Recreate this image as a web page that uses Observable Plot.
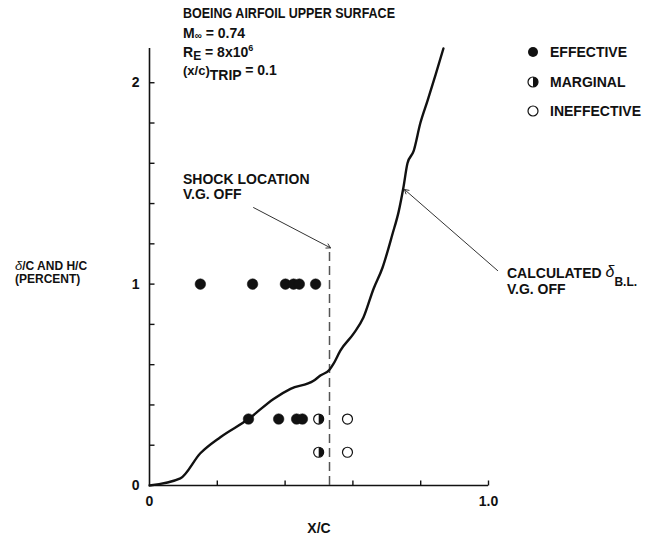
<!DOCTYPE html>
<html><head><meta charset="utf-8">
<script src="https://cdn.jsdelivr.net/npm/d3@7"></script>
<script src="https://cdn.jsdelivr.net/npm/@observablehq/plot@0.6"></script>
<style>
body{margin:0;background:#fff;}
#chart{position:relative;width:658px;height:536px;}
</style></head>
<body><div id="chart"></div>
<script>
// ---- data ----
const curveX = [0, 0.091, 0.15, 0.209, 0.292, 0.366, 0.416, 0.484, 0.504, 0.531, 0.543, 0.563, 0.602, 0.631, 0.661, 0.687, 0.717, 0.735, 0.749, 0.761, 0.779, 0.799, 0.82, 0.844, 0.867];
const curveY = [0, 0.035, 0.16, 0.24, 0.33, 0.43, 0.48, 0.52, 0.546, 0.575, 0.605, 0.67, 0.754, 0.834, 0.977, 1.08, 1.25, 1.36, 1.48, 1.6, 1.66, 1.8, 1.91, 2.04, 2.17];
const effectiveX = [0.15, 0.304, 0.401, 0.425, 0.442, 0.49, 0.292, 0.381, 0.434, 0.451];
const effectiveY = [1, 1, 1, 1, 1, 1, 0.33, 0.33, 0.33, 0.33];
const marginalX = [0.499, 0.499];
const marginalY = [0.33, 0.165];
const ineffectiveX = [0.584, 0.584];
const ineffectiveY = [0.33, 0.165];
const shockX = 0.531;
const shockTop = 1.18;
const yTicks = [0.2, 0.4, 0.6, 0.8, 1.0, 1.2, 1.4, 1.6, 1.8, 2.0];
const xTicks = [0.2, 0.4, 0.6, 0.8, 1.0];
const yTickLabels = [0, 1, 2];
const xTickValues = [0, 1];
const xTickLabels = ["0", "1.0"];
const legendLabels = ["EFFECTIVE", "MARGINAL", "INEFFECTIVE"];

const curve = curveX.map((x, i) => ({x, y: curveY[i]}));
const eff = effectiveX.map((x, i) => ({x, y: effectiveY[i]}));
const marg = marginalX.map((x, i) => ({x, y: marginalY[i]}));
const ineff = ineffectiveX.map((x, i) => ({x, y: ineffectiveY[i]}));

const halfRight = {draw(ctx, size) { const r = Math.sqrt(size / Math.PI); ctx.moveTo(0, -r); ctx.arc(0, 0, r, -Math.PI / 2, Math.PI / 2); ctx.closePath(); }};
const hTick = {draw(ctx) { ctx.moveTo(0, 0); ctx.lineTo(5, 0); }};
const vTick = {draw(ctx) { ctx.moveTo(0, 0); ctx.lineTo(0, -5); }};

const ink = "#111";
const font = "'Liberation Sans', Arial, Helvetica, sans-serif";

const plot = Plot.plot({
  width: 658, height: 536,
  marginTop: 48, marginBottom: 51, marginLeft: 149, marginRight: 170,
  x: {domain: [0, 1], axis: null},
  y: {domain: [0, 2.17], axis: null},
  style: {fontFamily: font, fontWeight: "bold", fontSize: "14px", color: ink, background: "#fff", overflow: "visible"},
  marks: [
    Plot.ruleY([0], {x1: 0, x2: 1, stroke: ink, strokeWidth: 1.6}),
    Plot.ruleX([0], {y1: 0, y2: 2.17, stroke: ink, strokeWidth: 1.6}),
    Plot.dot(yTicks, {x: 0, y: d => d, symbol: hTick, stroke: ink, fill: "none", strokeWidth: 1.4}),
    Plot.dot(xTicks, {x: d => d, y: 0, symbol: vTick, stroke: ink, fill: "none", strokeWidth: 1.4}),
    Plot.text(yTickLabels, {x: 0, y: d => d, text: d => String(d), dx: -10, textAnchor: "end", fill: ink}),
    Plot.text(xTickValues, {x: d => d, y: 0, text: (d, i) => xTickLabels[i], dy: 16, fill: ink}),
    Plot.text(["X/C"], {x: 0.5, y: 0, dy: 43, fill: ink}),
    Plot.ruleX([shockX], {y1: 0, y2: shockTop, stroke: "#555", strokeWidth: 1.5, strokeDasharray: "9,5"}),
    Plot.arrow([{x1: 0.307, y1: 1.38, x2: 0.534, y2: 1.18}], {x1: "x1", y1: "y1", x2: "x2", y2: "y2", stroke: "#333", strokeWidth: 1, headLength: 7}),
    Plot.arrow([{x1: 1.027, y1: 1.067, x2: 0.752, y2: 1.47}], {x1: "x1", y1: "y1", x2: "x2", y2: "y2", stroke: "#333", strokeWidth: 1, headLength: 7}),
    Plot.line(curve, {x: "x", y: "y", stroke: ink, strokeWidth: 2.4, curve: "monotone-x"}),
    Plot.dot(eff, {x: "x", y: "y", r: 5.3, fill: ink, stroke: ink, strokeWidth: 0.5}),
    Plot.dot(marg, {x: "x", y: "y", r: 5, fill: "#fff", stroke: ink, strokeWidth: 1.2}),
    Plot.dot(marg, {x: "x", y: "y", r: 5, fill: ink, symbol: halfRight}),
    Plot.dot(ineff, {x: "x", y: "y", r: 5, fill: "#fff", stroke: ink, strokeWidth: 1.2})
  ]
});

document.getElementById("chart").appendChild(plot);
const svg = d3.select(plot);
const g = svg.append("g").attr("font-family", font).attr("font-weight", "bold")
  .attr("fill", ink).attr("font-size", 14).attr("text-anchor", "start");

function line(x, y, parts, size, len) {
  const t = g.append("text").attr("x", x).attr("y", y);
  if (size) t.attr("font-size", size);
  if (len) t.attr("textLength", len).attr("lengthAdjust", "spacingAndGlyphs");
  for (const p of parts) {
    const s = t.append("tspan").text(p.t);
    if (p.dy) s.attr("dy", p.dy);
    if (p.size) s.attr("font-size", p.size);
    if (p.italic) s.attr("font-style", "italic").attr("font-weight", "normal");
  }
  return t;
}

// title block
line(183, 18, [{t: "BOEING AIRFOIL UPPER SURFACE"}], 14, 212);
line(183, 38, [{t: "M"}, {t: "∞", size: 10, dy: 1}, {t: " = 0.74", dy: -1}]);
line(183, 57, [{t: "R"}, {t: "E", size: 12, dy: 3}, {t: " = 8x10", dy: -3}, {t: "6", size: 9, dy: -6}]);
line(183, 75, [{t: "(x/c)", size: 13}, {t: "TRIP", dy: 5}, {t: " = 0.1", dy: -5}]);

// legend
const legendY = [52, 82, 111];
const lg = svg.append("g");
lg.append("circle").attr("cx", 533).attr("cy", legendY[0]).attr("r", 5).attr("fill", ink);
lg.append("circle").attr("cx", 533).attr("cy", legendY[1]).attr("r", 5).attr("fill", "#fff").attr("stroke", ink).attr("stroke-width", 1.2);
lg.append("path").attr("d", `M533,${legendY[1] - 5}A5,5 0 0 1 533,${legendY[1] + 5}Z`).attr("fill", ink);
lg.append("circle").attr("cx", 533).attr("cy", legendY[2]).attr("r", 5).attr("fill", "#fff").attr("stroke", ink).attr("stroke-width", 1.2);
legendLabels.forEach((s, i) => line(550, legendY[i] + 5, [{t: s}]));

// annotations
line(183, 184, [{t: "SHOCK LOCATION"}]);
line(183, 199, [{t: "V.G. OFF"}]);
line(507, 278, [{t: "CALCULATED "}, {t: "δ", italic: true, size: 16, dy: -1}, {t: "B.L.", size: 12, dy: 9}]);
line(507, 294, [{t: "V.G. OFF"}]);

// y axis label
line(15, 270, [{t: "δ", italic: true, size: 13}, {t: "/C AND H/C"}], 12);
line(15, 283, [{t: "(PERCENT)"}], 12);
</script>
</body></html>
